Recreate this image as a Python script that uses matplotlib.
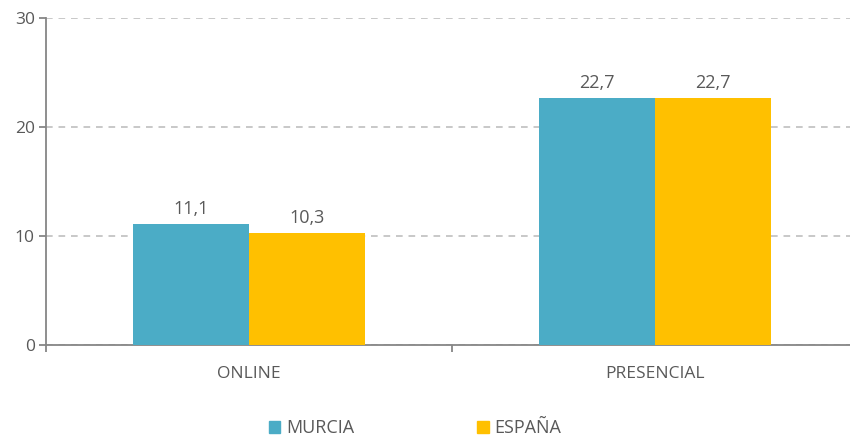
import matplotlib
matplotlib.use("Agg")
import matplotlib.pyplot as plt
from matplotlib.patches import Patch
import numpy as np

categories = ["ONLINE", "PRESENCIAL"]
series_names = ["MURCIA", "ESPAÑA"]
murcia = [11.1, 22.7]
espana = [10.3, 22.7]
yticks = [0, 10, 20, 30]

colors = ["#4BACC6", "#FFC000"]
text_color = "#595959"
axis_color = "#868686"

plt.rcParams['font.family'] = ['Open Sans', 'DejaVu Sans']

fig = plt.figure(figsize=(8.5, 4.38), dpi=100)
ax = fig.add_axes([0.054, 0.212, 0.955, 0.747])
ax.spines["bottom"].set_bounds(-0.5, 1.49)

x = np.arange(len(categories))
w = 0.286
for vals, off, c in [(murcia, -w / 2, colors[0]), (espana, w / 2, colors[1])]:
    bars = ax.bar(x + off, vals, width=w, color=c, zorder=3)
    for b, v in zip(bars, vals):
        ax.text(b.get_x() + b.get_width() / 2, v + 0.55, f"{v:.1f}".replace(".", ","),
                ha="center", va="bottom", fontsize=13, color=text_color)

ax.set_xlim(-0.5, 1.5)
ax.set_ylim(0, 30)
ax.set_yticks(yticks)
ax.set_xticks(x)
ax.set_xticklabels(categories)
ax.set_xticks([-0.5, 0.5], minor=True)
ax.tick_params(axis="x", which="major", length=0, pad=15, labelsize=12.5, labelcolor=text_color)
ax.tick_params(axis="x", which="minor", length=5, color=axis_color, width=1.3)
ax.tick_params(axis="y", length=5, color=axis_color, width=1.3, labelsize=12.5,
               labelcolor=text_color, pad=3)

ax.yaxis.grid(True, linestyle=(0, (4, 3.5)), color="#BFBFBF", linewidth=1.2, zorder=0)
for s in ["top", "right"]:
    ax.spines[s].set_visible(False)
for s in ["left", "bottom"]:
    ax.spines[s].set_color(axis_color)
    ax.spines[s].set_linewidth(1.3)

handles = [Patch(color=c, label=n) for c, n in zip(colors, series_names)]
fig.legend(handles=handles, loc="center", bbox_to_anchor=(0.488, 0.022), ncol=2,
           frameon=False, fontsize=13, labelcolor=text_color, handlelength=0.65,
           handleheight=0.65, handletextpad=0.3, columnspacing=6.8)

fig.savefig("out.png", dpi=100)
